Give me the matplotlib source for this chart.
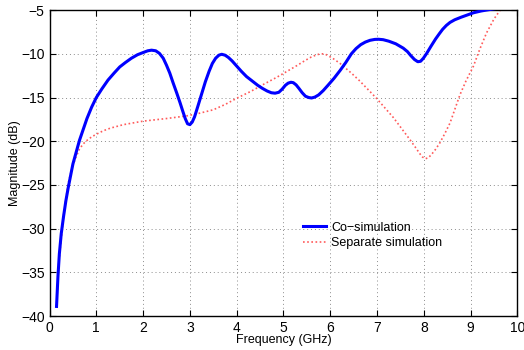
import matplotlib
matplotlib.use("Agg")
import matplotlib.pyplot as plt

plt.rcParams['font.family'] = ['Liberation Sans', 'DejaVu Sans']

co_f = [0.15, 0.18, 0.21, 0.25, 0.30, 0.35, 0.40, 0.50, 0.64, 0.80, 0.90, 1.00, 1.12, 1.25,
        1.38, 1.50, 1.62, 1.75, 1.88, 2.00, 2.10, 2.18, 2.27, 2.35, 2.43, 2.50, 2.57, 2.64,
        2.72, 2.79, 2.85, 2.90, 2.95, 3.00, 3.05, 3.10, 3.17, 3.25, 3.33, 3.41, 3.48, 3.55,
        3.62, 3.68, 3.75, 3.82, 3.90, 4.00, 4.10, 4.21, 4.33, 4.45, 4.55, 4.65, 4.74, 4.82,
        4.90, 4.97, 5.04, 5.10, 5.16, 5.21, 5.27, 5.33, 5.40, 5.47, 5.54, 5.60, 5.67, 5.75,
        5.85, 5.95, 6.08, 6.21, 6.33, 6.45, 6.55, 6.65, 6.75, 6.85, 6.95, 7.03, 7.13, 7.25,
        7.40, 7.56, 7.65, 7.72, 7.80, 7.87, 7.93, 7.99, 8.06, 8.15, 8.25, 8.33, 8.40, 8.48,
        8.56, 8.66, 8.80, 8.93, 9.06, 9.22, 9.38, 9.55, 9.70]
co_db = [-38.9, -35.5, -32.9, -30.6, -28.6, -26.8, -25.3, -22.6, -19.9, -17.4, -16.1, -15.0,
         -14.0, -13.0, -12.2, -11.5, -11.0, -10.5, -10.1, -9.85, -9.65, -9.58, -9.65, -9.95,
         -10.5, -11.3, -12.2, -13.3, -14.5, -15.6, -16.6, -17.4, -18.0, -18.1, -17.8, -17.2,
         -16.0, -14.6, -13.2, -12.0, -11.1, -10.5, -10.15, -10.05, -10.15, -10.4, -10.8, -11.4,
         -12.0, -12.6, -13.1, -13.6, -13.95, -14.25, -14.45, -14.5, -14.4, -14.05, -13.6,
         -13.35, -13.25, -13.3, -13.55, -13.95, -14.45, -14.85, -15.0, -15.05, -14.95, -14.7,
         -14.2, -13.6, -12.8, -11.9, -11.0, -10.0, -9.4, -8.95, -8.65, -8.45, -8.35, -8.33,
         -8.38, -8.55, -8.85, -9.35, -9.75, -10.2, -10.65, -10.9, -10.85, -10.5, -9.95, -9.15,
         -8.3, -7.7, -7.2, -6.75, -6.4, -6.1, -5.8, -5.55, -5.3, -5.1, -4.95, -4.8, -4.7]

sep_f = [0.15, 0.20, 0.30, 0.40, 0.47, 0.55, 0.64, 0.72, 0.80, 0.90, 1.00, 1.15, 1.30, 1.58,
         2.00, 2.50, 2.93, 3.20, 3.50, 3.75, 4.03, 4.30, 4.57, 4.85, 5.14, 5.30, 5.45, 5.58,
         5.71, 5.80, 5.88, 5.95, 6.05, 6.21, 6.45, 6.63, 6.99, 7.35, 7.70, 7.82, 7.91, 7.97,
         8.03, 8.09, 8.15, 8.24, 8.34, 8.45, 8.56, 8.77, 8.90, 9.06, 9.20, 9.34, 9.50, 9.63,
         9.75]
sep_db = [-38.9, -33.8, -28.5, -24.8, -23.3, -22.0, -20.9, -20.3, -19.9, -19.5, -19.2, -18.8,
          -18.5, -18.1, -17.7, -17.4, -17.1, -16.8, -16.4, -15.8, -15.0, -14.3, -13.5, -12.7,
          -11.8, -11.3, -10.8, -10.4, -10.1, -10.0, -10.0, -10.2, -10.5, -11.1, -12.2, -13.1,
          -15.1, -17.3, -19.8, -20.7, -21.4, -21.8, -22.0, -21.9, -21.6, -21.0, -20.2, -19.1,
          -17.9, -14.7, -13.1, -11.4, -9.4, -7.6, -6.0, -5.0, -4.4]

xticks = list(range(0, 11))
yticks = [-40, -35, -30, -25, -20, -15, -10, -5]

fig = plt.figure(figsize=(5.24, 3.5), dpi=100)
ax = fig.add_axes([0.0945, 0.097, 0.893, 0.874])

ax.plot(co_f, co_db, color='#0000ff', lw=2.2, label='Co\u2212simulation', zorder=3)
ax.plot(sep_f, sep_db, color='#ff5a5a', lw=1.2, ls=(0, (1, 1.5)), label='Separate simulation', zorder=2)

ax.set_xlim(0, 10)
ax.set_ylim(-40, -5)
ax.set_xticks(xticks)
ax.set_yticks(yticks)
ax.grid(True, color='0.55', ls=(0, (1, 3)), lw=0.7)
ax.tick_params(direction='in', top=True, right=True, labelsize=10, length=4, width=0.8)
for s in ax.spines.values():
    s.set_linewidth(1.0)
ax.set_xlabel('Frequency (GHz)', fontsize=9)
ax.set_ylabel('Magnitude (dB)', fontsize=9)
ax.yaxis.set_label_coords(-0.062, 0.5)
ax.xaxis.set_label_coords(0.5, -0.058)

leg = ax.legend(loc='upper left', bbox_to_anchor=(0.53, 0.325), frameon=False, fontsize=9,
                handlelength=1.9, handletextpad=0.4, labelspacing=0.3, borderaxespad=0)

fig.savefig('out.png', dpi=100)
